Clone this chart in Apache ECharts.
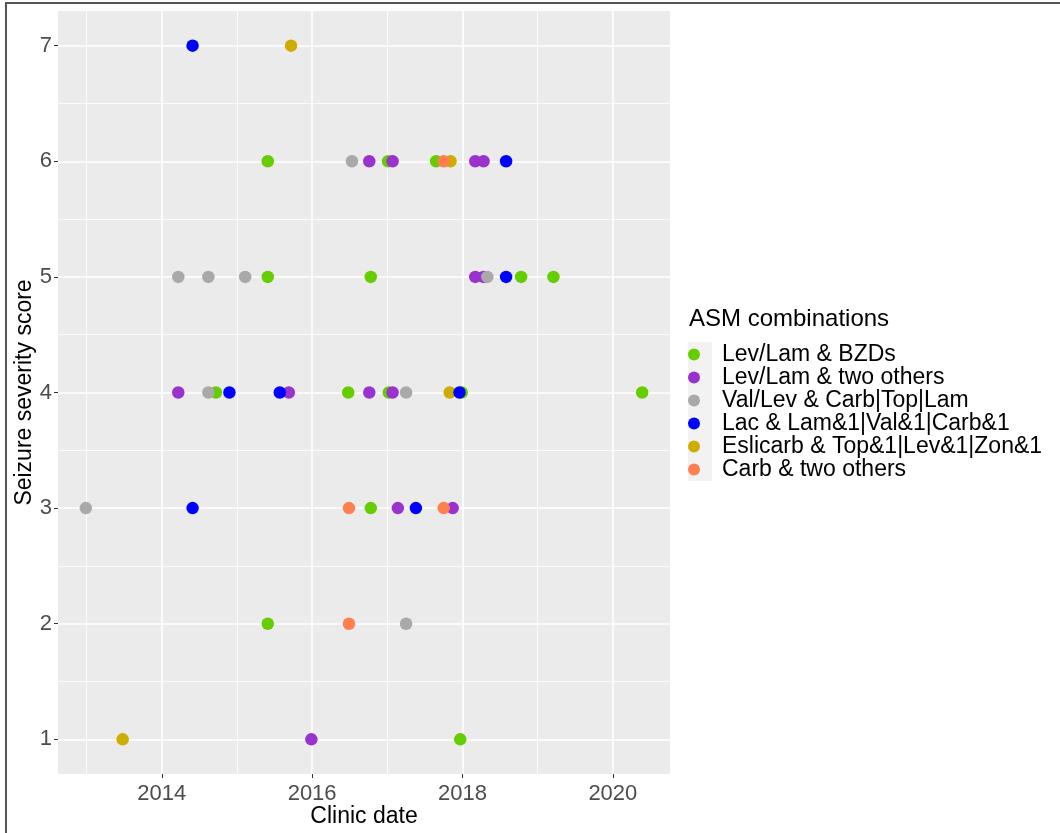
<!DOCTYPE html>
<html>
<head>
<meta charset="utf-8">
<script src="https://cdn.jsdelivr.net/npm/echarts@6/dist/echarts.min.js"></script>
<style>
  html, body { margin: 0; padding: 0; background: #fff; }
  #chart { width: 1060px; height: 833px; }
</style>
</head>
<body>
<div id="chart"></div>
<script>
// Clinic dates (decimal years) and seizure severity scores per ASM combination
const groupNames = [
  'Lev/Lam & BZDs',
  'Lev/Lam & two others',
  'Val/Lev & Carb|Top|Lam',
  'Lac & Lam&1|Val&1|Carb&1',
  'Eslicarb & Top&1|Lev&1|Zon&1',
  'Carb & two others'
];
const groupColors = ['#66CD00', '#9A32CD', '#A9A9A9', '#0000FF', '#CDAD00', '#FF7F50'];

const levLamBzdDates  = [2015.41, 2017.01, 2017.65, 2015.41, 2016.78, 2018.78, 2019.21, 2014.72, 2016.48, 2017.02, 2017.99, 2020.39, 2016.78, 2015.41, 2017.97];
const levLamBzdScores = [6,       6,       6,       5,       5,       5,       5,       4,       4,       4,       4,       4,       3,       2,       1];

const levLamTwoDates  = [2016.76, 2017.07, 2018.17, 2018.28, 2018.17, 2018.28, 2014.22, 2015.69, 2016.76, 2017.07, 2017.14, 2017.87, 2015.99];
const levLamTwoScores = [6,       6,       6,       6,       5,       5,       4,       4,       4,       4,       3,       3,       1];

const valLevDates  = [2016.53, 2014.22, 2014.62, 2015.11, 2018.33, 2014.62, 2017.25, 2012.99, 2017.25];
const valLevScores = [6,       5,       5,       5,       5,       4,       4,       3,       2];

const lacDates  = [2014.41, 2018.58, 2018.58, 2014.90, 2015.57, 2017.96, 2014.41, 2017.38];
const lacScores = [7,       6,       5,       4,       4,       4,       3,       3];

const eslicarbDates  = [2015.72, 2017.84, 2017.83, 2013.48];
const eslicarbScores = [7,       6,       4,       1];

const carbTwoDates  = [2017.75, 2016.49, 2017.75, 2016.49];
const carbTwoScores = [6,       3,       3,       2];

const groupDates  = [levLamBzdDates, levLamTwoDates, valLevDates, lacDates, eslicarbDates, carbTwoDates];
const groupScores = [levLamBzdScores, levLamTwoScores, valLevScores, lacScores, eslicarbScores, carbTwoScores];

// Axis ticks
const xMajorTicks = [2014, 2016, 2018, 2020];
const xMinorTicks = [2013, 2015, 2017, 2019];
const yMajorTicks = [1, 2, 3, 4, 5, 6, 7];
const yMinorTicks = [1.5, 2.5, 3.5, 4.5, 5.5, 6.5];

const X_MIN = 2012.62, X_MAX = 2020.76;
const Y_MIN = 0.7, Y_MAX = 7.3;
const FONT = "'Liberation Sans', Arial, sans-serif";

const chart = echarts.init(document.getElementById('chart'), null, { renderer: 'canvas' });

const series = groupNames.map((name, i) => ({
  name: name,
  type: 'scatter',
  xAxisIndex: 0,
  yAxisIndex: 0,
  symbol: 'circle',
  symbolSize: 12.5,
  z: name.startsWith('Eslicarb') ? 1 : 2,
  itemStyle: { color: groupColors[i], opacity: 1 },
  emphasis: { disabled: true },
  data: groupDates[i].map((d, k) => [d, groupScores[i][k]])
}));

chart.setOption({
  animation: false,
  backgroundColor: '#ffffff',
  textStyle: { fontFamily: FONT },
  title: {
    text: 'ASM combinations',
    left: 689,
    top: 307,
    padding: 0,
    textStyle: { fontFamily: FONT, fontSize: 24, fontWeight: 'normal', color: '#000000' }
  },
  legend: {
    orient: 'vertical',
    left: 688,
    top: 343,
    padding: 0,
    itemWidth: 24,
    itemHeight: 12,
    itemGap: 0,
    icon: 'circle',
    selectedMode: false,
    data: groupNames,
    textStyle: { fontFamily: FONT, fontSize: 23, color: '#000000', lineHeight: 23, padding: [0, 0, 0, 11] }
  },
  graphic: [
    // outer frame
    { type: 'rect', shape: { x: 6, y: 3, width: 1100, height: 900 }, style: { fill: 'none', stroke: '#555555', lineWidth: 2 }, silent: true, z: 100 },
    // legend key background
    { type: 'rect', shape: { x: 688, y: 342, width: 24, height: 139 }, style: { fill: '#F2F2F2' }, silent: true, z: -1 }
  ],
  grid: {
    left: 58,
    right: 390,
    top: 11,
    bottom: 59,
    outerBoundsMode: 'none',
    containLabel: false,
    show: true,
    backgroundColor: '#EBEBEB',
    borderWidth: 0
  },
  xAxis: [
    {
      type: 'value',
      min: X_MIN,
      max: X_MAX,
      name: 'Clinic date',
      nameLocation: 'middle',
      nameGap: 31,
      nameMoveOverlap: false,
      nameTextStyle: { fontFamily: FONT, fontSize: 23, color: '#000000' },
      axisLine: { show: false },
      axisTick: { show: true, length: 4, lineStyle: { color: '#333333', width: 1 }, customValues: xMajorTicks },
      axisLabel: { show: true, customValues: xMajorTicks, fontFamily: FONT, fontSize: 22, color: '#4D4D4D', margin: 9, formatter: v => String(Math.round(v)) },
      splitLine: { show: true, lineStyle: { color: '#FFFFFF', width: 1.6 } }
    },
    {
      type: 'value',
      min: X_MIN,
      max: X_MAX,
      position: 'bottom',
      axisLine: { show: false },
      axisTick: { show: false, customValues: xMinorTicks },
      axisLabel: { show: false, customValues: xMinorTicks },
      splitLine: { show: true, lineStyle: { color: '#FFFFFF', width: 0.8 } }
    }
  ],
  yAxis: [
    {
      type: 'value',
      min: Y_MIN,
      max: Y_MAX,
      name: 'Seizure severity score',
      nameLocation: 'middle',
      nameGap: 22,
      nameMoveOverlap: false,
      nameTextStyle: { fontFamily: FONT, fontSize: 23, color: '#000000' },
      axisLine: { show: false },
      axisTick: { show: true, length: 4, lineStyle: { color: '#333333', width: 1 }, customValues: yMajorTicks },
      axisLabel: { show: true, customValues: yMajorTicks, fontFamily: FONT, fontSize: 22, color: '#4D4D4D', margin: 6, formatter: v => String(Math.round(v)) },
      splitLine: { show: true, lineStyle: { color: '#FFFFFF', width: 1.6 } }
    },
    {
      type: 'value',
      min: Y_MIN,
      max: Y_MAX,
      position: 'left',
      axisLine: { show: false },
      axisTick: { show: false, customValues: yMinorTicks },
      axisLabel: { show: false, customValues: yMinorTicks },
      splitLine: { show: true, lineStyle: { color: '#FFFFFF', width: 0.8 } }
    }
  ],
  series: series
});
</script>
</body>
</html>
